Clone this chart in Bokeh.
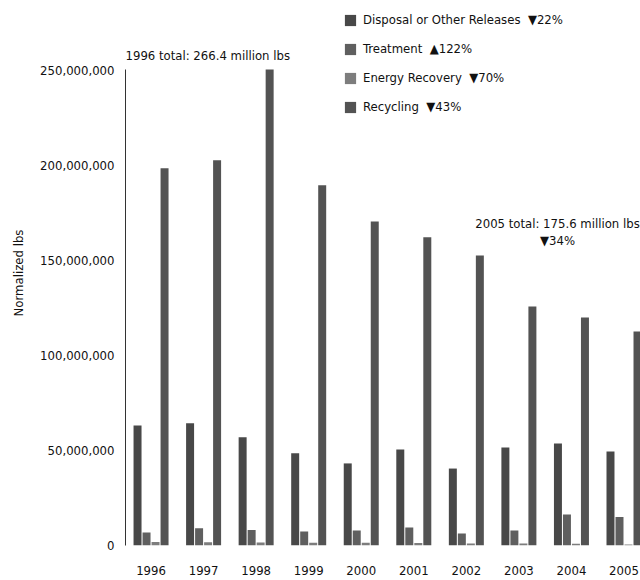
from bokeh.plotting import figure
from bokeh.models import (Range1d, Legend, LegendItem, Label, NumeralTickFormatter,
                          FixedTicker, ColumnDataSource)
from bokeh.transform import dodge
from bokeh.embed import file_html
from bokeh.resources import INLINE

# ---------------- data ----------------
years = [1996, 1997, 1998, 1999, 2000, 2001, 2002, 2003, 2004, 2005]
disposal = [63.2e6, 64.4e6, 57.0e6, 48.6e6, 43.2e6, 50.5e6, 40.5e6, 51.6e6, 53.7e6, 49.5e6]
treatment = [6.8e6, 9.1e6, 8.1e6, 7.4e6, 7.9e6, 9.5e6, 6.3e6, 7.9e6, 16.3e6, 15.0e6]
energy = [1.8e6, 1.7e6, 1.6e6, 1.5e6, 1.4e6, 1.3e6, 1.1e6, 1.0e6, 0.9e6, 0.55e6]
recycling = [198.6e6, 202.8e6, 250.5e6, 189.6e6, 170.5e6, 162.3e6, 152.6e6, 125.8e6, 120.0e6, 112.6e6]
series_names = ["Disposal or Other Releases", "Treatment", "Energy Recovery", "Recycling"]
series_changes = ["\u25bc22%", "\u25b2122%", "\u25bc70%", "\u25bc43%"]
y_ticks = [0, 50000000, 100000000, 150000000, 200000000, 250000000]
y_label = "Normalized lbs"
note_1996 = "1996 total: 266.4 million lbs"
note_2005 = "2005 total: 175.6 million lbs"
note_2005_change = "\u25bc34%"

# ---------------- styling ----------------
FONT = "DejaVu Sans Condensed"
colors = ["#484848", "#5f5f5f", "#7d7d7d", "#535353"]
offsets = [-0.257, -0.0857, 0.0857, 0.257]
bar_w = 0.152

src = ColumnDataSource(dict(year=years, disposal=disposal, treatment=treatment,
                            energy=energy, recycling=recycling))

p = figure(width=640, height=580, output_backend="svg", toolbar_location=None,
           x_range=Range1d(1996 - 0.486, 2005 + 0.314),
           y_range=Range1d(0, 286840000),
           min_border_left=125, min_border_right=0, min_border_top=0, min_border_bottom=35)
p.outline_line_color = None
p.xgrid.grid_line_color = None
p.ygrid.grid_line_color = None
p.background_fill_color = "white"
p.border_fill_color = "white"

renderers = []
for col, off, c in zip(["disposal", "treatment", "energy", "recycling"], offsets, colors):
    r = p.vbar(x=dodge("year", off), top=col, width=bar_w, source=src,
               fill_color=c, line_color=None)
    renderers.append(r)

# axes
p.xaxis.ticker = FixedTicker(ticks=years)
p.xaxis.axis_line_color = None
p.xaxis.major_tick_line_color = None
p.xaxis.minor_tick_line_color = None
p.xaxis.major_tick_out = 0
p.xaxis.major_label_standoff = 20
p.xaxis.major_label_text_font = FONT
p.xaxis.major_label_text_font_size = "13px"
p.xaxis.major_label_text_color = "#111111"

p.yaxis.ticker = FixedTicker(ticks=y_ticks)
p.yaxis.bounds = (0, 250500000)
p.yaxis.formatter = NumeralTickFormatter(format="0,0")
p.yaxis.axis_line_color = "#333333"
p.yaxis.major_tick_line_color = None
p.yaxis.minor_tick_line_color = None
p.yaxis.major_tick_out = 0
p.yaxis.major_label_standoff = 11
p.yaxis.major_label_text_font = FONT
p.yaxis.major_label_text_font_size = "13px"
p.yaxis.major_label_text_color = "#111111"
p.yaxis.axis_label = y_label
p.yaxis.axis_label_standoff = 11
p.yaxis.axis_label_text_font = FONT
p.yaxis.axis_label_text_font_size = "13px"
p.yaxis.axis_label_text_font_style = "normal"
p.yaxis.axis_label_text_color = "#111111"

# legend
items = [LegendItem(label=f"{n}  {ch}", renderers=[r])
         for n, ch, r in zip(series_names, series_changes, renderers)]
legend = Legend(items=items, location=(218, 431), glyph_width=14, glyph_height=14,
                label_height=14, spacing=14, padding=0, margin=0, label_standoff=6,
                border_line_color=None, background_fill_alpha=0,
                label_text_font=FONT, label_text_font_size="13px",
                label_text_color="#111111")
p.add_layout(legend)

# annotations
common = dict(x_units="screen", y_units="screen", text_font=FONT,
              text_font_size="13px", text_color="#111111")
p.add_layout(Label(x=0, y=490, text=note_1996, text_align="left",
                   text_baseline="middle", **common))
p.add_layout(Label(x=432, y=322, text=note_2005, text_align="center",
                   text_baseline="middle", **common))
p.add_layout(Label(x=432, y=305, text=note_2005_change, text_align="center",
                   text_baseline="middle", **common))

open("out.html", "w").write(file_html(p, INLINE))
